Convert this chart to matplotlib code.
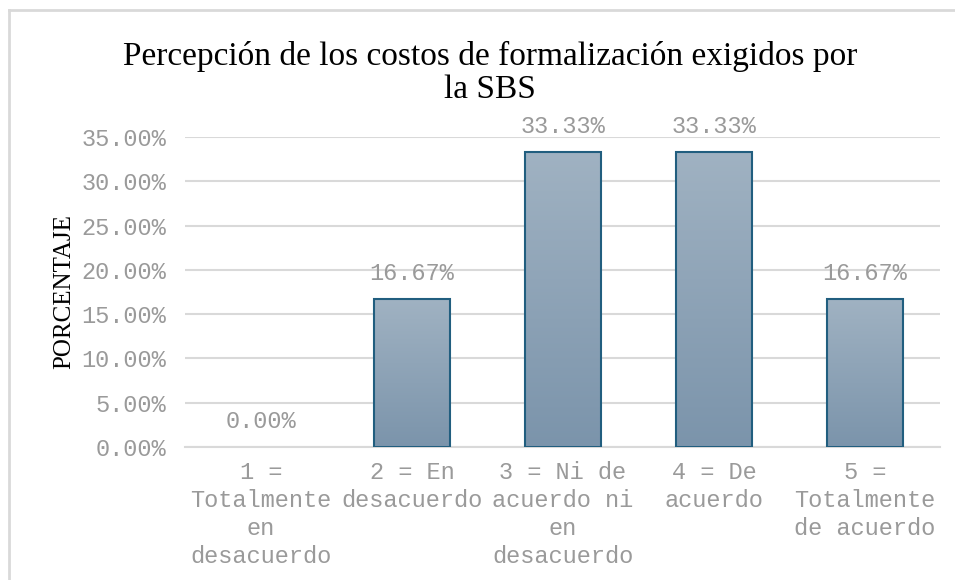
import numpy as np
import matplotlib.pyplot as plt
from matplotlib.lines import Line2D
from matplotlib.colors import LinearSegmentedColormap
from matplotlib.ticker import FuncFormatter

# Datos
categorias = ["1 =\nTotalmente\nen\ndesacuerdo",
              "2 = En\ndesacuerdo",
              "3 = Ni de\nacuerdo ni\nen\ndesacuerdo",
              "4 = De\nacuerdo",
              "5 =\nTotalmente\nde acuerdo"]
porcentajes = [0.0, 0.1667, 0.3333, 0.3333, 0.1667]
etiquetas = ["0.00%", "16.67%", "33.33%", "33.33%", "16.67%"]

gris = "#9A9A9A"
mono = "Liberation Mono"
serif = "Liberation Serif"

fig = plt.figure(figsize=(9.55, 5.8), dpi=100)
ax = fig.add_axes([0.1942, 0.2293, 0.7906, 0.5345])

x = np.arange(len(categorias))
barras = ax.bar(x, porcentajes, width=0.5, facecolor="none",
                edgecolor="#215E7F", linewidth=1.5, zorder=3)

# relleno degradado de cada barra
cmap = LinearSegmentedColormap.from_list("deg", ["#7B94AB", "#A0B2C2"])
grad = np.linspace(0, 1, 256).reshape(-1, 1)
for b in barras:
    h = b.get_height()
    if h <= 0:
        b.set_edgecolor("none")
        continue
    x0 = b.get_x()
    ax.imshow(grad, cmap=cmap, origin="lower", aspect="auto",
              extent=[x0, x0 + b.get_width(), 0, h], zorder=2)

for xi, v, t in zip(x, porcentajes, etiquetas):
    ax.annotate(t, (xi, v), xytext=(0, 10), textcoords="offset points",
                ha="center", va="bottom", fontsize=17, family=mono, color=gris)

ax.set_xlim(-0.5, len(categorias) - 0.5)
ax.set_ylim(0, 0.35)
ax.set_yticks(np.arange(0, 0.351, 0.05))
ax.yaxis.set_major_formatter(FuncFormatter(lambda v, p: f"{v*100:.2f}%"))
ax.set_xticks(x)
ax.set_xticklabels(categorias, family=mono, fontsize=17, color=gris,
                   linespacing=1.28)
for lab in ax.get_yticklabels():
    lab.set_family(mono)
    lab.set_fontsize(17)
    lab.set_color(gris)

ax.tick_params(axis="both", length=0)
ax.tick_params(axis="x", pad=10)
ax.tick_params(axis="y", pad=14)
ax.grid(axis="y", color="#D9D9D9", linewidth=1.5, zorder=0)
ax.set_axisbelow(True)
for s in ["top", "right", "left"]:
    ax.spines[s].set_visible(False)
ax.spines["bottom"].set_color("#D9D9D9")
ax.spines["bottom"].set_linewidth(1.5)

ax.set_ylabel("PORCENTAJE", family=serif, fontsize=18, color="black",
              labelpad=4)

fig.text(0.513, 0.93, "Percepción de los costos de formalización exigidos por\nla SBS",
         ha="center", va="top", family=serif, fontsize=24, linespacing=1.1)

# marco del gráfico
fig.add_artist(Line2D([9 / 955, 1], [1 - 10 / 580] * 2, color="#D9D9D9",
                      linewidth=2, transform=fig.transFigure))
fig.add_artist(Line2D([9 / 955] * 2, [0, 1 - 10 / 580], color="#D9D9D9",
                      linewidth=2, transform=fig.transFigure))

fig.savefig("out.png", dpi=100)
